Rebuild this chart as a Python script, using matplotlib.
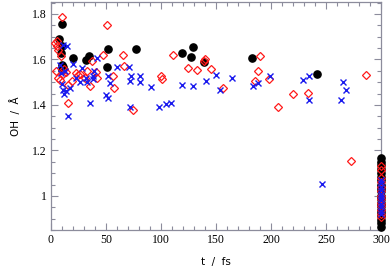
import matplotlib
matplotlib.use("Agg")
import matplotlib.pyplot as plt
from matplotlib.ticker import MultipleLocator

# black filled circles
black_t = [9.7, 7.5, 9.7, 9.1, 10.0, 10.0, 11.0, 20.0, 31.8, 34.8, 51.5, 51.0, 77.5, 118.8,
           129.4, 127.2, 139.4, 182.7, 241.8,
           300, 300, 300, 300, 300, 300, 300, 300, 300, 300, 300, 300, 300, 300, 300, 300,
           300, 300, 300, 300]
black_oh = [1.756, 1.69, 1.66, 1.63, 1.575, 1.555, 1.565, 1.606, 1.596, 1.613, 1.646, 1.565, 1.646,
            1.627, 1.653, 1.61, 1.588, 1.606, 1.537,
            1.165, 1.15, 1.135, 1.12, 1.10, 1.085, 1.07, 1.05, 1.035, 1.02, 1.0, 0.985,
            0.97, 0.955, 0.94, 0.925, 0.91, 0.895, 0.88, 0.865]

# red open diamonds
red_t = [9.7, 50.6, 3.6, 5.7, 5.2, 47.5, 65.2, 66.6, 56.0, 57.3, 74.2, 15.8, 15.8, 18.8,
         22.7, 26.4, 30.9, 35.5, 37.0, 40.9, 41.5, 100.0, 100.6, 111.2, 124.2, 132.4,
         140.0, 139.4, 145.2, 156.7, 185.7, 188.5, 190.0, 198.5, 206.7, 220.3, 233.9,
         286.4, 272.7,
         4.5, 6.5, 8.0, 10.5, 12.0, 13.5, 25.0, 33.0, 6.0, 9.0,
         300, 300, 300, 300, 300, 300, 300, 300, 300, 300, 300, 300, 300]
red_oh = [1.788, 1.752, 1.671, 1.681, 1.657, 1.62, 1.62, 1.569, 1.525, 1.474, 1.379, 1.408,
          1.489, 1.503, 1.54, 1.535, 1.518, 1.484, 1.591, 1.543, 1.518, 1.528, 1.514, 1.62,
          1.562, 1.554, 1.601, 1.594, 1.559, 1.474, 1.503, 1.551, 1.617, 1.514, 1.393,
          1.448, 1.452, 1.53, 1.152,
          1.55, 1.52, 1.51, 1.535, 1.56, 1.545, 1.53, 1.55, 1.64, 1.615,
          1.13, 1.115, 1.08, 1.06, 1.04, 1.02, 1.0, 0.985, 0.97, 0.955, 0.94, 0.92, 0.905]

# blue crosses
blue_t = [15.8, 35.5, 11.2, 14.2, 8.2, 20.3, 27.9, 41.5, 39.4, 37.9, 52.1, 53.6, 50.0, 52.1,
          59.7, 71.2, 72.7, 71.8, 80.9, 80.9, 71.8, 90.6, 98.5, 104.2, 108.8, 119.4, 129.4,
          140.9, 150.0, 153.6, 164.2, 183.3, 187.9, 199.1, 229.4, 234.2, 234.2, 263.6,
          265.8, 267.9, 246.0,
          10.0, 11.0, 12.0, 14.0, 17.0, 23.0, 26.0, 32.0, 33.0, 38.0, 9.0, 13.0,
          300, 300, 300, 300, 300, 300, 300, 300, 300, 300, 300]
blue_oh = [1.353, 1.408, 1.664, 1.66, 1.576, 1.58, 1.562, 1.606, 1.547, 1.528, 1.525, 1.496,
           1.445, 1.43, 1.565, 1.565, 1.528, 1.503, 1.528, 1.499, 1.393, 1.478, 1.391, 1.405,
           1.41, 1.489, 1.484, 1.503, 1.533, 1.467, 1.518, 1.481, 1.496, 1.525, 1.511,
           1.525, 1.423, 1.42, 1.499, 1.464, 1.054,
           1.49, 1.465, 1.45, 1.46, 1.475, 1.52, 1.5, 1.52, 1.5, 1.515, 1.54, 1.55,
           1.07, 1.055, 1.04, 1.025, 1.01, 0.995, 0.98, 0.965, 0.95, 0.935, 0.92]

plt.rcParams['font.family'] = 'Liberation Serif'

fig = plt.figure(figsize=(3.92, 2.69), dpi=100)
ax = fig.add_axes([0.130, 0.145, 0.842, 0.848])

ax.plot(black_t, black_oh, 'o', color='black', markersize=5.2, clip_on=False, zorder=3)
ax.plot(red_t, red_oh, 'D', markerfacecolor='none', markeredgecolor='#ff1a1a',
        markersize=4.0, markeredgewidth=0.9, clip_on=False, zorder=4)
ax.plot(blue_t, blue_oh, 'x', color='#1a1aee', markersize=4.6, markeredgewidth=1.0,
        clip_on=False, zorder=5)

ax.set_xlim(0, 300)
ax.set_ylim(0.85, 1.853)
ax.xaxis.set_major_locator(MultipleLocator(50))
ax.xaxis.set_minor_locator(MultipleLocator(10))
ax.yaxis.set_major_locator(MultipleLocator(0.2))
ax.yaxis.set_minor_locator(MultipleLocator(0.05))
ax.set_yticks([1.0, 1.2, 1.4, 1.6, 1.8])
ax.set_yticklabels(['1', '1.2', '1.4', '1.6', '1.8'])

spine_col = '#8c8c9c'
for s in ax.spines.values():
    s.set_color(spine_col)
    s.set_linewidth(0.9)
ax.tick_params(which='both', direction='in', top=True, right=True, color=spine_col,
               labelsize=8.5, pad=3)
ax.tick_params(which='major', length=5, width=0.8)
ax.tick_params(which='minor', length=3, width=0.8)

ax.set_xlabel('t  /  fs', family='DejaVu Sans', fontsize=7.5, labelpad=8)
ax.set_ylabel('OH  /  Å', family='DejaVu Sans', fontsize=7.5, labelpad=8)

fig.savefig('out.png', dpi=100)
